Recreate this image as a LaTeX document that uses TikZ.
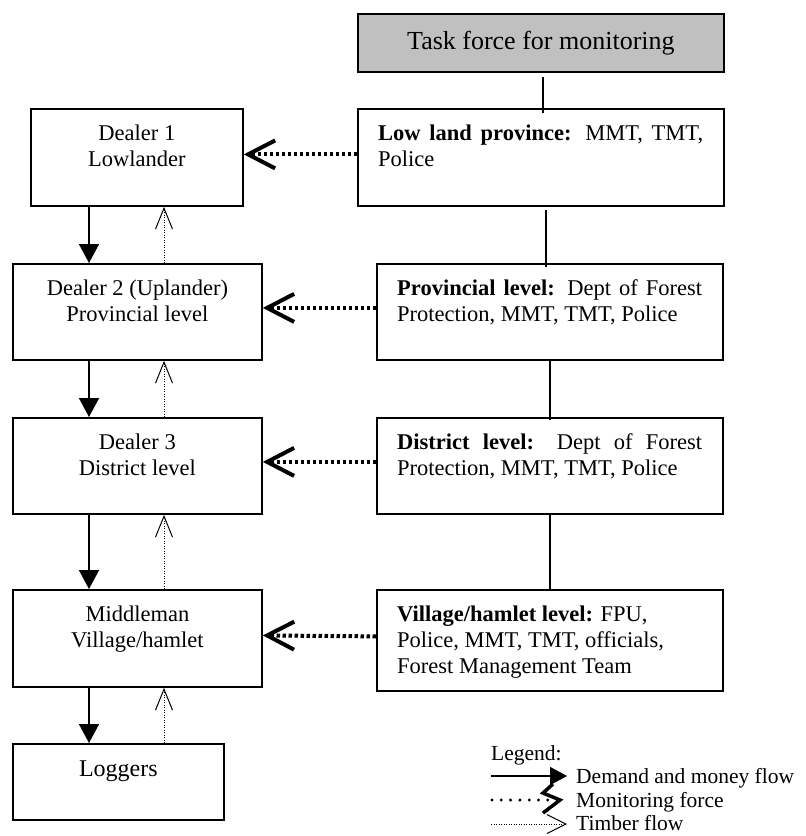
\documentclass[tikz,border=0pt]{standalone}
\usepackage{fontspec}
\setmainfont{Liberation Serif}
\usetikzlibrary{arrows.meta}
\definecolor{tfgray}{RGB}{192,192,192}
\begin{document}
\begin{tikzpicture}[x=1pt,y=-1pt,
  box/.style={draw,line width=1.8pt,rectangle,inner sep=0pt,anchor=north west},
  txt/.style={inner sep=0pt,font=\fontsize{22.5}{26}\selectfont},
  ctxt/.style={txt,anchor=north,align=center},
  rtxt/.style={txt,anchor=north west,align=left},
  link/.style={line width=1.5pt},
  demand/.style={line width=1.6pt,-{Triangle[length=19pt,width=20pt]}},
  timber/.style={line width=1pt,dash pattern=on 1pt off 1.5pt,
    -{Straight Barb[length=21pt,width=17pt,line width=1pt]}},
  monitor/.style={line width=4pt,dash pattern=on 3.5pt off 2.5pt,
    -{Straight Barb[length=27pt,width=28pt,line width=4pt]}},
  lgtxt/.style={inner sep=0pt,anchor=base west,font=\fontsize{21.5}{24}\selectfont}]
\useasboundingbox (0,0) rectangle (806,836);

% boxes
\node[box,fill=tfgray,minimum width=366pt,minimum height=58pt,
  font=\fontsize{26}{30}\selectfont] (tf) at (357,13) {Task force for monitoring};
\node[box,minimum width=212pt,minimum height=97pt] (d1) at (30,108) {};
\node[box,minimum width=366pt,minimum height=97pt] (ll) at (357,108) {};
\node[box,minimum width=249pt,minimum height=96pt] (d2) at (12,263) {};
\node[box,minimum width=346pt,minimum height=96pt] (prov) at (376,263) {};
\node[box,minimum width=249pt,minimum height=96pt] (d3) at (12,417) {};
\node[box,minimum width=346pt,minimum height=96pt] (dist) at (376,417) {};
\node[box,minimum width=249pt,minimum height=97pt] (mid) at (12,589) {};
\node[box,minimum width=346pt,minimum height=101pt] (vil) at (376,589) {};
\node[box,minimum width=211pt,minimum height=76pt] (log) at (12,743) {};

% left texts
\node[ctxt] (d1t) at ([yshift=-16.5pt]d1.north) {Dealer 1\\Lowlander};
\node[ctxt] (d2t) at ([yshift=-16.5pt]d2.north) {Dealer 2 (Uplander)\\Provincial level};
\node[ctxt] (d3t) at ([yshift=-16.5pt]d3.north) {Dealer 3\\District level};
\node[ctxt] (midt) at ([yshift=-16.5pt]mid.north) {Middleman\\Village/hamlet};
\node[ctxt,font=\fontsize{24}{28}\selectfont] (logt) at ([yshift=-18pt]log.north) {Loggers};

% right texts
\node[rtxt] (llt) at ([xshift=21pt,yshift=-16.5pt]ll.north west)
  {\makebox[325pt][s]{\textbf{Low land province:} MMT, TMT,}\\Police};
\node[rtxt] (provt) at ([xshift=21pt,yshift=-16.5pt]prov.north west)
  {\makebox[305pt][s]{\textbf{Provincial level:} Dept of Forest}\\Protection, MMT, TMT, Police};
\node[rtxt] (distt) at ([xshift=21pt,yshift=-16.5pt]dist.north west)
  {\makebox[305pt][s]{\textbf{District level:} Dept of Forest}\\Protection, MMT, TMT, Police};
\node[rtxt] (vilt) at ([xshift=21pt,yshift=-16.5pt]vil.north west)
  {\textbf{Village/hamlet level:} FPU,\\Police, MMT, TMT, officials,\\Forest Management Team};

% right column links
\draw[link] ([xshift=2pt,yshift=-4pt]tf.south) -- ([xshift=2pt,yshift=-5pt]ll.north);
\draw[link] ([xshift=5pt,yshift=-3pt]ll.south) -- ([xshift=-4pt,yshift=-4pt]prov.north);
\draw[link] (prov.south) -- ([yshift=-3pt]dist.north);
\draw[link] (dist.south) -- (vil.north);

% monitoring arrows
\draw[monitor] ([yshift=3pt]ll.west) -- ([yshift=3pt]d1.east);
\draw[monitor] ([yshift=4pt]prov.west) -- ([yshift=4pt]d2.east);
\draw[monitor] ([yshift=4pt]dist.west) -- ([yshift=4pt]d3.east);
\draw[monitor] ([yshift=4pt]vil.west) -- ([yshift=3pt]mid.east);

% demand and timber columns
\coordinate (dcol) at (89,0);
\coordinate (tcol) at (164,0);
\draw[demand] (d1.south -| dcol) -- (d2.north -| dcol);
\draw[demand] (d2.south -| dcol) -- (d3.north -| dcol);
\draw[demand] (d3.south -| dcol) -- (mid.north -| dcol);
\draw[demand] (mid.south -| dcol) -- (log.north -| dcol);
\draw[timber] (d2.north -| tcol) -- (d1.south -| tcol);
\draw[timber] (d3.north -| tcol) -- (d2.south -| tcol);
\draw[timber] (mid.north -| tcol) -- (d3.south -| tcol);
\draw[timber] (log.north -| tcol) -- (mid.south -| tcol);

% legend
\node[lgtxt] (lg) at (491,760) {Legend:};
\coordinate (l1a) at (491,776);
\coordinate (l1b) at (567,776);
\coordinate (l2a) at (492,800);
\coordinate (l2b) at (553,800);
\coordinate (l3a) at (491,824);
\coordinate (l3b) at (567,824);
\draw[line width=1.6pt,-{Triangle[length=17pt,width=18pt]}] (l1a) -- (l1b);
\draw[line width=3.5pt,line join=miter] (553,784) -- (543,793) -- (560,800) -- (543,813);
\draw[line width=3.3pt,line cap=round,dash pattern=on 0pt off 9.3pt] (l2a) -- (l2b);
\draw[line width=1pt,dash pattern=on 1pt off 1.5pt,
  -{Straight Barb[length=19pt,width=19pt,line width=1pt]}] (l3a) -- (l3b);
\node[lgtxt] (lg1) at (576,783) {Demand and money flow};
\node[lgtxt] (lg2) at (576,807) {Monitoring force};
\node[lgtxt] (lg3) at (576,830) {Timber flow};
\end{tikzpicture}
\end{document}
